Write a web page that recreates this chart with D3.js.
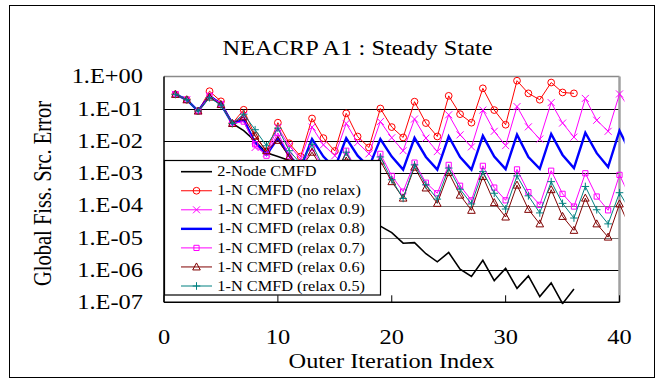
<!DOCTYPE html>
<html><head><meta charset="utf-8">
<script src="https://cdn.jsdelivr.net/npm/d3@7"></script>
<style>
body{margin:0;background:#fff}
svg{display:block}
text{font-family:"Liberation Serif","Times New Roman",serif;fill:#000}
</style>
</head><body>
<svg id="c" width="663" height="381"></svg>
<script>
// ---------- data ----------
const title = "NEACRP A1 : Steady State";
const xLabel = "Outer Iteration Index";
const yLabel = "Global Fiss. Src. Error";
const xTicks = [0, 10, 20, 30, 40];
const yTicks = [1, 1e-1, 1e-2, 1e-3, 1e-4, 1e-5, 1e-6, 1e-7];
const yTickLabels = ["1.E+00","1.E-01","1.E-02","1.E-03","1.E-04","1.E-05","1.E-06","1.E-07"];
const seriesNames = ["2-Node CMFD","1-N CMFD (no relax)","1-N CMFD (relax 0.9)","1-N CMFD (relax 0.8)",
                     "1-N CMFD (relax 0.7)","1-N CMFD (relax 0.6)","1-N CMFD (relax 0.5)"];
// values at outer iterations 1, 2, 3, ...
const twoNode = [0.28,0.19,0.085,0.25,0.14,0.035,0.021,0.010,0.0043,0.0033,
  0.0025,0.0014,7.9e-4,4.5e-4,2.5e-4,1.4e-4,7.9e-5,4.5e-5,2.3e-5,1.45e-5,
  6.8e-6,7.1e-6,3.2e-6,1.8e-6,3.5e-6,1.07e-6,6.3e-7,2.0e-6,4.7e-7,1.12e-6,
  2.7e-7,6.6e-7,1.5e-7,4.0e-7,9.1e-8,2.6e-7];
const noRelax = [0.28,0.19,0.085,0.35,0.17,0.035,0.093,0.0148,0.0047,0.037,
  0.0085,0.0033,0.050,0.0123,0.0049,0.072,0.0138,0.0063,0.102,0.027,
  0.0129,0.166,0.036,0.0138,0.251,0.068,0.037,0.43,0.091,0.032,
  0.74,0.30,0.19,0.65,0.32,0.30];
const relax09 = [0.28,0.19,0.085,0.25,0.14,0.035,0.063,0.0063,0.0042,0.026,
  0.0071,0.0028,0.027,0.0076,0.0035,0.035,0.0089,0.0040,0.040,0.0126,
  0.005,0.048,0.0123,0.0047,0.065,0.0155,0.0066,0.091,0.020,0.0072,
  0.117,0.0275,0.0115,0.155,0.036,0.0132,0.209,0.044,0.020,0.288,0.091];
const relax08 = [0.28,0.19,0.085,0.25,0.14,0.035,0.045,0.0089,0.0037,0.0123,
  0.0035,0.0015,0.0115,0.0033,0.00145,0.0123,0.0035,0.00155,0.0115,0.0033,
  0.0013,0.0126,0.0032,0.0013,0.0138,0.0032,0.0013,0.0145,0.0033,0.00135,
  0.0158,0.0032,0.00138,0.0166,0.0037,0.00145,0.018,0.0042,0.00155,0.021,0.004];
const relax07 = [0.28,0.19,0.085,0.25,0.14,0.035,0.040,0.0079,0.0035,0.0178,
  0.0035,0.0014,0.006,0.0014,6.3e-4,0.005,0.00112,4.5e-4,0.004,8.3e-4,
  2.7e-4,0.00214,5.1e-4,2.4e-4,0.00182,4.1e-4,1.45e-4,0.0017,3.6e-4,1.45e-4,
  0.00132,2.6e-4,1.05e-4,0.0012,2.3e-4,9.3e-5,0.001,1.9e-4,7.1e-5,8.9e-4,1.6e-4];
const relax06 = [0.28,0.19,0.085,0.23,0.135,0.035,0.056,0.0141,0.005,0.0105,
  0.0032,0.0014,0.0045,0.00126,5.0e-4,0.0032,7.9e-4,3.2e-4,0.0024,5.5e-4,
  1.7e-4,0.00155,3.5e-4,1.17e-4,0.00105,2.1e-4,7.1e-5,7.9e-4,1.23e-4,4.4e-5,
  4.3e-4,7.6e-5,2.7e-5,3.1e-4,4.6e-5,1.7e-5,1.7e-4,2.7e-5,1.05e-5,1.12e-4,1.78e-5];
const relax05 = [0.28,0.19,0.085,0.22,0.13,0.035,0.068,0.0224,0.0071,0.025,
  0.005,0.002,0.0079,0.00158,6.3e-4,0.0045,0.001,4.0e-4,0.0032,6.3e-4,
  1.66e-4,0.00182,4.4e-4,1.58e-4,0.00145,3.2e-4,1.12e-4,0.00112,2.4e-4,7.8e-5,
  8.3e-4,2.0e-4,5.9e-5,5.5e-4,1.17e-4,4.1e-5,3.9e-4,7.4e-5,2.7e-5,2.5e-4,6.3e-5];

const seriesData = [twoNode, noRelax, relax09, relax08, relax07, relax06, relax05];
const seriesColors = ["#000000","#ff0000","#ff00ff","#0000ff","#ff00ff","#800000","#008080"];
const seriesWidths = [1.6, 1, 1, 2.4, 1, 1, 1];
const seriesMarkers = [null, "circle", "x", null, "square", "triangle", "plus"];

// ---------- layout ----------
const SX = 1.22; // horizontal stretch of the original's lettering
const svg = d3.select("#c");
const x = d3.scaleLinear().domain([0, 40]).range([164, 619.5]);
const y = d3.scaleLog().domain([1e-7, 1]).range([302.3, 76.5]);

// outer frame
svg.append("rect").attr("x", 9.5).attr("y", 5.5).attr("width", 645).attr("height", 372)
  .attr("fill", "#fff").attr("stroke", "#000").attr("stroke-width", 1);

// title
svg.append("text").attr("transform", `translate(${x(17)},55) scale(${SX},1)`)
  .attr("text-anchor", "middle").style("font-size", "20px").text(title);

// gridlines
const gridColor = d => (d === 1e-4 || d === 1e-5) ? "#777" : "#000";
svg.append("g").selectAll("line").data(yTicks.filter(d => d < 1 && d > 1e-7)).join("line")
  .attr("x1", x(0)).attr("x2", x(40))
  .attr("y1", d => Math.round(y(d)) + 0.5).attr("y2", d => Math.round(y(d)) + 0.5)
  .attr("stroke", gridColor).attr("stroke-width", 1);

// plot frame: top/right gray, left/bottom black
svg.append("line").attr("x1", x(0)).attr("x2", x(40)).attr("y1", y(1)).attr("y2", y(1))
  .attr("stroke", "#8a8a8a").attr("stroke-width", 1.5);
svg.append("line").attr("x1", x(40)).attr("x2", x(40)).attr("y1", y(1)).attr("y2", y(1e-7))
  .attr("stroke", "#a0a0a0").attr("stroke-width", 2.5);

// y tick labels
svg.append("g").selectAll("text").data(yTicks).join("text")
  .attr("transform", d => `translate(143,${y(d) + 6.8}) scale(${SX},1)`)
  .attr("text-anchor", "end").style("font-size", "20px")
  .text((d, i) => yTickLabels[i]);

// x tick labels
svg.append("g").selectAll("text").data(xTicks).join("text")
  .attr("transform", d => `translate(${x(d)},344) scale(${SX},1)`)
  .attr("text-anchor", "middle").style("font-size", "20px").text(d => d);

// x ticks (inward)
svg.append("g").selectAll("line").data(xTicks).join("line")
  .attr("x1", d => x(d)).attr("x2", d => x(d))
  .attr("y1", y(1e-7)).attr("y2", y(1e-7) - 7).attr("stroke", "#000");

// axis titles
svg.append("text").attr("transform", `translate(391.5,368) scale(${SX},1)`)
  .attr("text-anchor", "middle").style("font-size", "20px").text(xLabel);
svg.append("text").attr("transform", `translate(50.5,193.5) scale(${SX},1) rotate(-90)`)
  .attr("text-anchor", "middle").style("font-size", "20.5px").text(yLabel);

// clip
svg.append("clipPath").attr("id", "clip").append("rect")
  .attr("x", x(0) - 6).attr("y", y(1) - 8).attr("width", x(40) - x(0) + 11).attr("height", y(1e-7) - y(1) + 10);

// marker shapes
function markerPath(type) {
  switch (type) {
    case "circle": return d3.symbol(d3.symbolCircle, 36)();
    case "x": return "M-3.5,-3.5L3.5,3.5M-3.5,3.5L3.5,-3.5";
    case "square": return "M-2.6,-2.6H2.6V2.6H-2.6Z";
    case "triangle": return "M0,-4L3.8,3H-3.8Z";
    case "plus": return "M-3.8,0H3.8M0,-3.8V3.8";
  }
  return null;
}

const plot = svg.append("g").attr("clip-path", "url(#clip)");
const line = d3.line().x((d, i) => x(i + 1)).y(d => y(d));
seriesData.forEach((data, k) => {
  const g = plot.append("g");
  g.append("path").datum(data).attr("d", line).attr("fill", "none")
    .attr("stroke", seriesColors[k]).attr("stroke-width", seriesWidths[k])
    .attr("stroke-linejoin", "miter");
  if (seriesMarkers[k]) {
    g.selectAll("path.m").data(data).join("path").attr("class", "m")
      .attr("transform", (d, i) => `translate(${x(i + 1)},${y(d)})`)
      .attr("d", markerPath(seriesMarkers[k]))
      .attr("fill", "none").attr("stroke", seriesColors[k]).attr("stroke-width", 1);
  }
});

// axes left/bottom
svg.append("line").attr("x1", x(0)).attr("x2", x(0)).attr("y1", y(1)).attr("y2", y(1e-7))
  .attr("stroke", "#000").attr("stroke-width", 1.5);
svg.append("line").attr("x1", x(0)).attr("x2", x(40)).attr("y1", y(1e-7)).attr("y2", y(1e-7))
  .attr("stroke", "#000").attr("stroke-width", 1.5);

// legend
const lg = svg.append("g");
lg.append("rect").attr("x", 164.5).attr("y", 160.5).attr("width", 216).attr("height", 134.5)
  .attr("fill", "#fff").attr("stroke", "#000").attr("stroke-width", 1.2);
seriesNames.forEach((name, k) => {
  const cy = 171.7 + k * 19.05;
  lg.append("line").attr("x1", 181).attr("x2", 212).attr("y1", cy).attr("y2", cy)
    .attr("stroke", seriesColors[k]).attr("stroke-width", seriesWidths[k]);
  if (seriesMarkers[k]) {
    lg.append("path").attr("transform", `translate(196.5,${cy})`)
      .attr("d", markerPath(seriesMarkers[k])).attr("fill", "none")
      .attr("stroke", seriesColors[k]).attr("stroke-width", 1);
  }
  lg.append("text").attr("transform", `translate(217.3,${cy + 4.6}) scale(1.2,1)`)
    .style("font-size", "13.6px").text(name);
});
</script>
</body></html>
